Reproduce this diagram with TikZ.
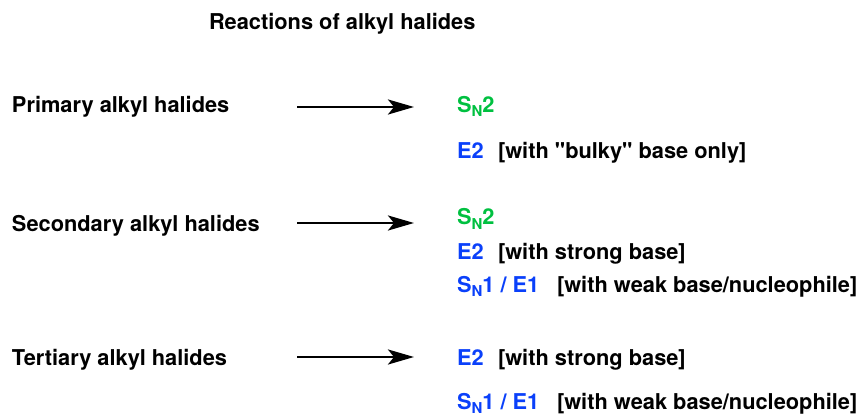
\documentclass[tikz,border=0pt]{standalone}
\usepackage{fontspec}
\setmainfont{TeX Gyre Heros}[Ligatures=TeXOff]
\usetikzlibrary{arrows.meta}
\definecolor{rgreen}{RGB}{0,192,64}
\definecolor{rblue}{RGB}{10,64,250}
\newcommand{\subN}{\raisebox{-4.5pt}{\fontsize{15}{15}\selectfont N}}
\tikzset{
  txt/.style={anchor=base west, inner sep=0pt, outer sep=0pt, font=\fontsize{21.8}{26}\selectfont\bfseries},
  grn/.style={txt, text=rgreen},
  blu/.style={txt, text=rblue},
  rarrow/.style={line width=2.7pt, -{Stealth[length=26pt,width=15pt,inset=6pt]}}
}
\begin{document}
\begin{tikzpicture}[x=1pt,y=-1pt]
\useasboundingbox (0,0) rectangle (866,419);
% title
\node[txt] (title) at (209,29.5) {Reactions of alkyl halides};
% row 1
\node[txt] (prim) at (12,113) {Primary alkyl halides};
\coordinate (a1s) at (297,107);
\coordinate (a1e) at (414,107);
\draw[rarrow] (a1s) -- (a1e);
\node[grn] (p1) at (457,112.5) {S\subN2};
\node[blu] (p2) at (457,159) {E2};
\node[txt] (p2c) at (498,159) {[with "bulky" base only]};
% row 2
\node[txt] (sec) at (12,232) {Secondary alkyl halides};
\coordinate (a2s) at (297,223);
\coordinate (a2e) at (414,223);
\draw[rarrow] (a2s) -- (a2e);
\node[grn] (s1) at (457,225) {S\subN2};
\node[blu] (s2) at (457,260) {E2};
\node[txt] (s2c) at (498,260) {[with strong base]};
\node[blu] (s3) at (457,292) {S\subN1 / E1};
\node[txt] (s3c) at (557,292) {[with weak base/nucleophile]};
% row 3
\node[txt] (ter) at (12,365.5) {Tertiary alkyl halides};
\coordinate (a3s) at (297,357);
\coordinate (a3e) at (414,357);
\draw[rarrow] (a3s) -- (a3e);
\node[blu] (t1) at (457,365) {E2};
\node[txt] (t1c) at (498,365) {[with strong base]};
\node[blu] (t2) at (457,409) {S\subN1 / E1};
\node[txt] (t2c) at (557,409) {[with weak base/nucleophile]};
\end{tikzpicture}
\end{document}
